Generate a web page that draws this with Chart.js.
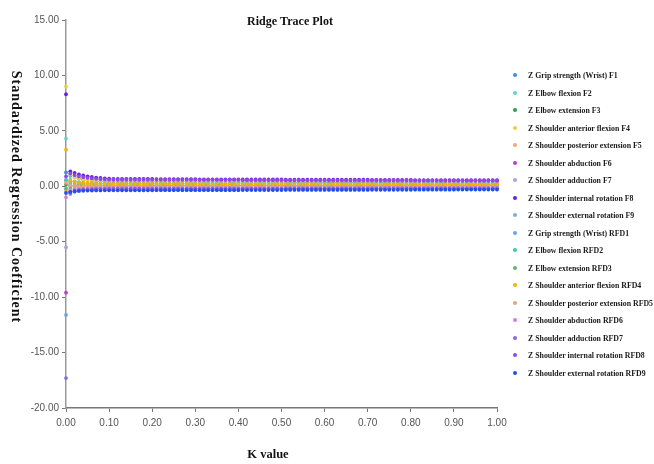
<!DOCTYPE html>
<html>
<head>
<meta charset="utf-8">
<title>Ridge Trace Plot</title>
<script src="https://cdn.jsdelivr.net/npm/chart.js@4"></script>
<style>
  html, body { margin: 0; padding: 0; background: #fff; }
  #wrap { width: 654px; height: 464px; position: relative; }
  #legenda { position: absolute; left: 510px; top: 69px; width: 144px; }
  .item { position: relative; height: 17.5px; }
  .item i { position: absolute; left: 3px; top: 4px; width: 4px; height: 4px; border-radius: 50%; }
  .item span {
    position: absolute; left: 18px; top: 1px; white-space: nowrap;
    font: bold 9px 'Liberation Serif', 'Times New Roman', serif; color: #1a1a1a;
    transform: scaleX(0.87); transform-origin: left center;
  }
</style>
</head>
<body>
<div id="wrap"><canvas id="grafico" width="654" height="464"></canvas><div id="legenda"></div></div>
<script>
/* Valores de K (eixo x) */
const K = [0.00,0.01,0.02,0.03,0.04,0.05,0.06,0.07,0.08,0.09,
  0.10,0.11,0.12,0.13,0.14,0.15,0.16,0.17,0.18,0.19,
  0.20,0.21,0.22,0.23,0.24,0.25,0.26,0.27,0.28,0.29,
  0.30,0.31,0.32,0.33,0.34,0.35,0.36,0.37,0.38,0.39,
  0.40,0.41,0.42,0.43,0.44,0.45,0.46,0.47,0.48,0.49,
  0.50,0.51,0.52,0.53,0.54,0.55,0.56,0.57,0.58,0.59,
  0.60,0.61,0.62,0.63,0.64,0.65,0.66,0.67,0.68,0.69,
  0.70,0.71,0.72,0.73,0.74,0.75,0.76,0.77,0.78,0.79,
  0.80,0.81,0.82,0.83,0.84,0.85,0.86,0.87,0.88,0.89,
  0.90,0.91,0.92,0.93,0.94,0.95,0.96,0.97,0.98,0.99,1.00];

const Y_TICKS = [-20, -15, -10, -5, 0, 5, 10, 15];
const X_TICKS = [0, 0.1, 0.2, 0.3, 0.4, 0.5, 0.6, 0.7, 0.8, 0.9, 1.0];

/* Coeficientes padronizados, um array por variável */
const F1 = [1.25,0.95,0.80,0.70,0.62,0.56,0.52,0.48,0.46,0.44,0.42,
  0.41,0.41,0.41,0.41,0.41,0.41,0.41,0.41,0.41,0.41,0.40,0.40,0.40,0.40,0.40,0.40,0.40,0.40,0.40,0.40,
  0.39,0.39,0.39,0.39,0.39,0.39,0.39,0.39,0.39,0.39,0.38,0.38,0.38,0.38,0.38,0.38,0.38,0.38,0.38,0.38,
  0.37,0.37,0.37,0.37,0.37,0.37,0.37,0.37,0.37,0.37,0.36,0.36,0.36,0.36,0.36,0.36,0.36,0.36,0.36,0.36,
  0.35,0.35,0.35,0.35,0.35,0.35,0.35,0.35,0.35,0.35,0.34,0.34,0.34,0.34,0.34,0.34,0.34,0.34,0.34,0.34,
  0.33,0.33,0.33,0.33,0.33,0.33,0.33,0.33,0.33,0.33];
const F2 = [4.30,0.60,0.45,0.38,0.33,0.30,0.28,0.27,0.26,0.25,0.24,
  0.24,0.24,0.24,0.24,0.24,0.24,0.24,0.24,0.24,0.24,0.24,0.24,0.24,0.24,0.24,0.24,0.24,0.24,0.24,0.24,
  0.23,0.23,0.23,0.23,0.23,0.23,0.23,0.23,0.23,0.23,0.23,0.23,0.23,0.23,0.23,0.23,0.23,0.23,0.23,0.23,
  0.22,0.22,0.22,0.22,0.22,0.22,0.22,0.22,0.22,0.22,0.22,0.22,0.22,0.22,0.22,0.22,0.22,0.22,0.22,0.22,
  0.21,0.21,0.21,0.21,0.21,0.21,0.21,0.21,0.21,0.21,0.21,0.21,0.21,0.21,0.21,0.21,0.21,0.21,0.21,0.21,
  0.20,0.20,0.20,0.20,0.20,0.20,0.20,0.20,0.20,0.20];
const F3 = [0.15,0.10,0.08,0.07,0.07,0.06,0.06,0.06,0.05,0.05,0.05,
  0.05,0.05,0.05,0.05,0.05,0.05,0.05,0.05,0.05,0.05,0.05,0.05,0.05,0.05,0.05,0.05,0.05,0.05,0.05,0.05,
  0.05,0.05,0.05,0.05,0.05,0.05,0.05,0.05,0.05,0.05,0.05,0.05,0.05,0.05,0.05,0.05,0.05,0.05,0.05,0.05,
  0.04,0.04,0.04,0.04,0.04,0.04,0.04,0.04,0.04,0.04,0.04,0.04,0.04,0.04,0.04,0.04,0.04,0.04,0.04,0.04,
  0.04,0.04,0.04,0.04,0.04,0.04,0.04,0.04,0.04,0.04,0.04,0.04,0.04,0.04,0.04,0.04,0.04,0.04,0.04,0.04,
  0.04,0.04,0.04,0.04,0.04,0.04,0.04,0.04,0.04,0.04];
const F4 = [9.00,1.05,0.80,0.68,0.60,0.55,0.52,0.50,0.48,0.47,0.46,
  0.46,0.46,0.46,0.46,0.46,0.46,0.46,0.46,0.46,0.46,0.45,0.45,0.45,0.45,0.45,0.45,0.45,0.45,0.45,0.45,
  0.44,0.44,0.44,0.44,0.44,0.44,0.44,0.44,0.44,0.44,0.43,0.43,0.43,0.43,0.43,0.43,0.43,0.43,0.43,0.43,
  0.42,0.42,0.42,0.42,0.42,0.42,0.42,0.42,0.42,0.42,0.41,0.41,0.41,0.41,0.41,0.41,0.41,0.41,0.41,0.41,
  0.40,0.40,0.40,0.40,0.40,0.40,0.40,0.40,0.40,0.40,0.39,0.39,0.39,0.39,0.39,0.39,0.39,0.39,0.39,0.39,
  0.38,0.38,0.38,0.38,0.38,0.38,0.38,0.38,0.38,0.38];
const F5 = [-0.40,-0.25,-0.18,-0.14,-0.12,-0.10,-0.09,-0.08,-0.08,-0.07,-0.07,
  -0.07,-0.07,-0.07,-0.07,-0.07,-0.07,-0.07,-0.07,-0.07,-0.07,-0.07,-0.07,-0.07,-0.07,-0.07,-0.07,-0.07,-0.07,-0.07,-0.07,
  -0.06,-0.06,-0.06,-0.06,-0.06,-0.06,-0.06,-0.06,-0.06,-0.06,-0.06,-0.06,-0.06,-0.06,-0.06,-0.06,-0.06,-0.06,-0.06,-0.06,
  -0.06,-0.06,-0.06,-0.06,-0.06,-0.06,-0.06,-0.06,-0.06,-0.06,-0.06,-0.06,-0.06,-0.06,-0.06,-0.06,-0.06,-0.06,-0.06,-0.06,
  -0.05,-0.05,-0.05,-0.05,-0.05,-0.05,-0.05,-0.05,-0.05,-0.05,-0.05,-0.05,-0.05,-0.05,-0.05,-0.05,-0.05,-0.05,-0.05,-0.05,
  -0.05,-0.05,-0.05,-0.05,-0.05,-0.05,-0.05,-0.05,-0.05,-0.05];
const F6 = [-9.60,-0.55,-0.40,-0.33,-0.28,-0.25,-0.23,-0.22,-0.21,-0.20,-0.20,
  -0.19,-0.19,-0.19,-0.19,-0.19,-0.19,-0.19,-0.19,-0.19,-0.19,-0.19,-0.19,-0.19,-0.19,-0.19,-0.19,-0.19,-0.19,-0.19,-0.19,
  -0.18,-0.18,-0.18,-0.18,-0.18,-0.18,-0.18,-0.18,-0.18,-0.18,-0.18,-0.18,-0.18,-0.18,-0.18,-0.18,-0.18,-0.18,-0.18,-0.18,
  -0.17,-0.17,-0.17,-0.17,-0.17,-0.17,-0.17,-0.17,-0.17,-0.17,-0.17,-0.17,-0.17,-0.17,-0.17,-0.17,-0.17,-0.17,-0.17,-0.17,
  -0.16,-0.16,-0.16,-0.16,-0.16,-0.16,-0.16,-0.16,-0.16,-0.16,-0.16,-0.16,-0.16,-0.16,-0.16,-0.16,-0.16,-0.16,-0.16,-0.16,
  -0.15,-0.15,-0.15,-0.15,-0.15,-0.15,-0.15,-0.15,-0.15,-0.15];
const F7 = [-5.50,-0.30,-0.15,-0.08,-0.04,-0.02,0.00,0.01,0.02,0.02,0.03,
  0.03,0.03,0.03,0.03,0.03,0.03,0.03,0.03,0.03,0.03,0.03,0.03,0.03,0.03,0.03,0.03,0.03,0.03,0.03,0.03,
  0.03,0.03,0.03,0.03,0.03,0.03,0.03,0.03,0.03,0.03,0.04,0.04,0.04,0.04,0.04,0.04,0.04,0.04,0.04,0.04,
  0.04,0.04,0.04,0.04,0.04,0.04,0.04,0.04,0.04,0.04,0.04,0.04,0.04,0.04,0.04,0.04,0.04,0.04,0.04,0.04,
  0.04,0.04,0.04,0.04,0.04,0.04,0.04,0.04,0.04,0.04,0.04,0.04,0.04,0.04,0.04,0.04,0.04,0.04,0.04,0.04,
  0.04,0.04,0.04,0.04,0.04,0.04,0.04,0.04,0.04,0.04];
const F8 = [8.30,1.35,1.20,1.08,0.98,0.90,0.84,0.79,0.75,0.72,0.69,
  0.67,0.67,0.67,0.67,0.67,0.67,0.67,0.67,0.67,0.67,0.65,0.65,0.65,0.65,0.65,0.65,0.65,0.65,0.65,0.65,
  0.63,0.63,0.63,0.63,0.63,0.63,0.63,0.63,0.63,0.63,0.62,0.62,0.62,0.62,0.62,0.62,0.62,0.62,0.62,0.62,
  0.60,0.60,0.60,0.60,0.60,0.60,0.60,0.60,0.60,0.60,0.59,0.59,0.59,0.59,0.59,0.59,0.59,0.59,0.59,0.59,
  0.58,0.58,0.58,0.58,0.58,0.58,0.58,0.58,0.58,0.58,0.56,0.56,0.56,0.56,0.56,0.56,0.56,0.56,0.56,0.56,
  0.55,0.55,0.55,0.55,0.55,0.55,0.55,0.55,0.55,0.55];
const F9 = [0.60,0.45,0.38,0.34,0.31,0.29,0.28,0.27,0.26,0.25,0.25,
  0.25,0.25,0.25,0.25,0.25,0.25,0.25,0.25,0.25,0.25,0.25,0.25,0.25,0.25,0.25,0.25,0.25,0.25,0.25,0.25,
  0.24,0.24,0.24,0.24,0.24,0.24,0.24,0.24,0.24,0.24,0.24,0.24,0.24,0.24,0.24,0.24,0.24,0.24,0.24,0.24,
  0.24,0.24,0.24,0.24,0.24,0.24,0.24,0.24,0.24,0.24,0.23,0.23,0.23,0.23,0.23,0.23,0.23,0.23,0.23,0.23,
  0.23,0.23,0.23,0.23,0.23,0.23,0.23,0.23,0.23,0.23,0.22,0.22,0.22,0.22,0.22,0.22,0.22,0.22,0.22,0.22,
  0.22,0.22,0.22,0.22,0.22,0.22,0.22,0.22,0.22,0.22];
const RFD1 = [-11.60,-0.70,-0.50,-0.42,-0.38,-0.35,-0.33,-0.32,-0.31,-0.30,-0.30,
  -0.30,-0.30,-0.30,-0.30,-0.30,-0.30,-0.30,-0.30,-0.30,-0.30,-0.29,-0.29,-0.29,-0.29,-0.29,-0.29,-0.29,-0.29,-0.29,-0.29,
  -0.28,-0.28,-0.28,-0.28,-0.28,-0.28,-0.28,-0.28,-0.28,-0.28,-0.28,-0.28,-0.28,-0.28,-0.28,-0.28,-0.28,-0.28,-0.28,-0.28,
  -0.27,-0.27,-0.27,-0.27,-0.27,-0.27,-0.27,-0.27,-0.27,-0.27,-0.26,-0.26,-0.26,-0.26,-0.26,-0.26,-0.26,-0.26,-0.26,-0.26,
  -0.25,-0.25,-0.25,-0.25,-0.25,-0.25,-0.25,-0.25,-0.25,-0.25,-0.25,-0.25,-0.25,-0.25,-0.25,-0.25,-0.25,-0.25,-0.25,-0.25,
  -0.24,-0.24,-0.24,-0.24,-0.24,-0.24,-0.24,-0.24,-0.24,-0.24];
const RFD2 = [0.50,0.30,0.22,0.18,0.16,0.15,0.14,0.13,0.13,0.12,0.12,
  0.12,0.12,0.12,0.12,0.12,0.12,0.12,0.12,0.12,0.12,0.12,0.12,0.12,0.12,0.12,0.12,0.12,0.12,0.12,0.12,
  0.12,0.12,0.12,0.12,0.12,0.12,0.12,0.12,0.12,0.12,0.12,0.12,0.12,0.12,0.12,0.12,0.12,0.12,0.12,0.12,
  0.11,0.11,0.11,0.11,0.11,0.11,0.11,0.11,0.11,0.11,0.11,0.11,0.11,0.11,0.11,0.11,0.11,0.11,0.11,0.11,
  0.11,0.11,0.11,0.11,0.11,0.11,0.11,0.11,0.11,0.11,0.11,0.11,0.11,0.11,0.11,0.11,0.11,0.11,0.11,0.11,
  0.11,0.11,0.11,0.11,0.11,0.11,0.11,0.11,0.11,0.11];
const RFD3 = [-0.20,-0.05,0.00,0.02,0.03,0.04,0.04,0.05,0.05,0.05,0.05,
  0.05,0.05,0.05,0.05,0.05,0.05,0.05,0.05,0.05,0.05,0.05,0.05,0.05,0.05,0.05,0.05,0.05,0.05,0.05,0.05,
  0.05,0.05,0.05,0.05,0.05,0.05,0.05,0.05,0.05,0.05,0.05,0.05,0.05,0.05,0.05,0.05,0.05,0.05,0.05,0.05,
  0.05,0.05,0.05,0.05,0.05,0.05,0.05,0.05,0.05,0.05,0.05,0.05,0.05,0.05,0.05,0.05,0.05,0.05,0.05,0.05,
  0.05,0.05,0.05,0.05,0.05,0.05,0.05,0.05,0.05,0.05,0.05,0.05,0.05,0.05,0.05,0.05,0.05,0.05,0.05,0.05,
  0.05,0.05,0.05,0.05,0.05,0.05,0.05,0.05,0.05,0.05];
const RFD4 = [3.30,0.50,0.38,0.32,0.28,0.26,0.24,0.23,0.22,0.22,0.21,
  0.21,0.21,0.21,0.21,0.21,0.21,0.21,0.21,0.21,0.21,0.21,0.21,0.21,0.21,0.21,0.21,0.21,0.21,0.21,0.21,
  0.20,0.20,0.20,0.20,0.20,0.20,0.20,0.20,0.20,0.20,0.20,0.20,0.20,0.20,0.20,0.20,0.20,0.20,0.20,0.20,
  0.20,0.20,0.20,0.20,0.20,0.20,0.20,0.20,0.20,0.20,0.19,0.19,0.19,0.19,0.19,0.19,0.19,0.19,0.19,0.19,
  0.19,0.19,0.19,0.19,0.19,0.19,0.19,0.19,0.19,0.19,0.18,0.18,0.18,0.18,0.18,0.18,0.18,0.18,0.18,0.18,
  0.18,0.18,0.18,0.18,0.18,0.18,0.18,0.18,0.18,0.18];
const RFD5 = [0.30,0.10,0.04,0.01,0.00,-0.01,-0.02,-0.02,-0.03,-0.03,-0.03,
  -0.03,-0.03,-0.03,-0.03,-0.03,-0.03,-0.03,-0.03,-0.03,-0.03,-0.03,-0.03,-0.03,-0.03,-0.03,-0.03,-0.03,-0.03,-0.03,-0.03,
  -0.03,-0.03,-0.03,-0.03,-0.03,-0.03,-0.03,-0.03,-0.03,-0.03,-0.03,-0.03,-0.03,-0.03,-0.03,-0.03,-0.03,-0.03,-0.03,-0.03,
  -0.03,-0.03,-0.03,-0.03,-0.03,-0.03,-0.03,-0.03,-0.03,-0.03,-0.03,-0.03,-0.03,-0.03,-0.03,-0.03,-0.03,-0.03,-0.03,-0.03,
  -0.03,-0.03,-0.03,-0.03,-0.03,-0.03,-0.03,-0.03,-0.03,-0.03,-0.03,-0.03,-0.03,-0.03,-0.03,-0.03,-0.03,-0.03,-0.03,-0.03,
  -0.03,-0.03,-0.03,-0.03,-0.03,-0.03,-0.03,-0.03,-0.03,-0.03];
const RFD6 = [-1.00,-0.45,-0.32,-0.26,-0.22,-0.20,-0.18,-0.17,-0.16,-0.16,-0.15,
  -0.15,-0.15,-0.15,-0.15,-0.15,-0.15,-0.15,-0.15,-0.15,-0.15,-0.15,-0.15,-0.15,-0.15,-0.15,-0.15,-0.15,-0.15,-0.15,-0.15,
  -0.14,-0.14,-0.14,-0.14,-0.14,-0.14,-0.14,-0.14,-0.14,-0.14,-0.14,-0.14,-0.14,-0.14,-0.14,-0.14,-0.14,-0.14,-0.14,-0.14,
  -0.13,-0.13,-0.13,-0.13,-0.13,-0.13,-0.13,-0.13,-0.13,-0.13,-0.13,-0.13,-0.13,-0.13,-0.13,-0.13,-0.13,-0.13,-0.13,-0.13,
  -0.13,-0.13,-0.13,-0.13,-0.13,-0.13,-0.13,-0.13,-0.13,-0.13,-0.12,-0.12,-0.12,-0.12,-0.12,-0.12,-0.12,-0.12,-0.12,-0.12,
  -0.12,-0.12,-0.12,-0.12,-0.12,-0.12,-0.12,-0.12,-0.12,-0.12];
const RFD7 = [-17.30,-0.60,-0.40,-0.32,-0.28,-0.26,-0.25,-0.24,-0.23,-0.23,-0.22,
  -0.22,-0.22,-0.22,-0.22,-0.22,-0.22,-0.22,-0.22,-0.22,-0.22,-0.22,-0.22,-0.22,-0.22,-0.22,-0.22,-0.22,-0.22,-0.22,-0.22,
  -0.21,-0.21,-0.21,-0.21,-0.21,-0.21,-0.21,-0.21,-0.21,-0.21,-0.21,-0.21,-0.21,-0.21,-0.21,-0.21,-0.21,-0.21,-0.21,-0.21,
  -0.20,-0.20,-0.20,-0.20,-0.20,-0.20,-0.20,-0.20,-0.20,-0.20,-0.20,-0.20,-0.20,-0.20,-0.20,-0.20,-0.20,-0.20,-0.20,-0.20,
  -0.19,-0.19,-0.19,-0.19,-0.19,-0.19,-0.19,-0.19,-0.19,-0.19,-0.19,-0.19,-0.19,-0.19,-0.19,-0.19,-0.19,-0.19,-0.19,-0.19,
  -0.18,-0.18,-0.18,-0.18,-0.18,-0.18,-0.18,-0.18,-0.18,-0.18];
const RFD8 = [0.90,1.15,1.00,0.90,0.82,0.76,0.71,0.67,0.64,0.62,0.60,
  0.59,0.59,0.59,0.59,0.59,0.59,0.59,0.59,0.59,0.59,0.58,0.58,0.58,0.58,0.58,0.58,0.58,0.58,0.58,0.58,
  0.57,0.57,0.57,0.57,0.57,0.57,0.57,0.57,0.57,0.57,0.55,0.55,0.55,0.55,0.55,0.55,0.55,0.55,0.55,0.55,
  0.54,0.54,0.54,0.54,0.54,0.54,0.54,0.54,0.54,0.54,0.53,0.53,0.53,0.53,0.53,0.53,0.53,0.53,0.53,0.53,
  0.52,0.52,0.52,0.52,0.52,0.52,0.52,0.52,0.52,0.52,0.51,0.51,0.51,0.51,0.51,0.51,0.51,0.51,0.51,0.51,
  0.50,0.50,0.50,0.50,0.50,0.50,0.50,0.50,0.50,0.50];
const RFD9 = [-0.60,-0.50,-0.45,-0.42,-0.40,-0.39,-0.38,-0.37,-0.37,-0.36,-0.36,
  -0.36,-0.36,-0.36,-0.36,-0.36,-0.36,-0.36,-0.36,-0.36,-0.36,-0.35,-0.35,-0.35,-0.35,-0.35,-0.35,-0.35,-0.35,-0.35,-0.35,
  -0.35,-0.35,-0.35,-0.35,-0.35,-0.35,-0.35,-0.35,-0.35,-0.35,-0.34,-0.34,-0.34,-0.34,-0.34,-0.34,-0.34,-0.34,-0.34,-0.34,
  -0.33,-0.33,-0.33,-0.33,-0.33,-0.33,-0.33,-0.33,-0.33,-0.33,-0.33,-0.33,-0.33,-0.33,-0.33,-0.33,-0.33,-0.33,-0.33,-0.33,
  -0.32,-0.32,-0.32,-0.32,-0.32,-0.32,-0.32,-0.32,-0.32,-0.32,-0.31,-0.31,-0.31,-0.31,-0.31,-0.31,-0.31,-0.31,-0.31,-0.31,
  -0.30,-0.30,-0.30,-0.30,-0.30,-0.30,-0.30,-0.30,-0.30,-0.30];

const NOMES = [
  'Z Grip strength (Wrist) F1', 'Z Elbow flexion F2', 'Z Elbow extension F3',
  'Z Shoulder anterior flexion F4', 'Z Shoulder posterior extension F5', 'Z Shoulder abduction F6',
  'Z Shoulder adduction F7', 'Z Shoulder internal rotation F8', 'Z Shoulder external rotation F9',
  'Z Grip strength (Wrist) RFD1', 'Z Elbow flexion RFD2', 'Z Elbow extension RFD3',
  'Z Shoulder anterior flexion RFD4', 'Z Shoulder posterior extension RFD5', 'Z Shoulder abduction RFD6',
  'Z Shoulder adduction RFD7', 'Z Shoulder internal rotation RFD8', 'Z Shoulder external rotation RFD9'
];
const SERIES = [F1, F2, F3, F4, F5, F6, F7, F8, F9, RFD1, RFD2, RFD3, RFD4, RFD5, RFD6, RFD7, RFD8, RFD9];
const CORES = ['#3d8ee0', '#5fd3d3', '#2e9e4a', '#f2cd3c', '#f0a878', '#b640d0', '#b0a0e0', '#6a20e0', '#7ab0e0',
  '#6aa6e2', '#40c8b0', '#60b870', '#f0b400', '#f0a080', '#d080e0', '#8868e0', '#9048e8', '#2050e8'];

const SERIF = "'Liberation Serif', 'Times New Roman', serif";
const SANS = "'Liberation Sans Narrow', 'Liberation Sans', Arial, sans-serif";

/* Títulos desenhados à mão: o do eixo y lê de cima para baixo */
const titulos = {
  id: 'titulos',
  afterDraw(chart) {
    const ctx = chart.ctx;
    ctx.save();
    ctx.fillStyle = '#111';
    ctx.textAlign = 'center';
    ctx.textBaseline = 'middle';
    ctx.font = `bold 12px ${SERIF}`;
    ctx.fillText('Ridge Trace Plot', 290, 22);
    ctx.font = `bold 12.5px ${SERIF}`;
    ctx.fillText('K value', 268, 455);
    ctx.translate(16, 197);
    ctx.rotate(Math.PI / 2);
    ctx.font = `bold 14px ${SERIF}`;
    ctx.letterSpacing = '1px';
    ctx.fillText('Standardized Regression Coefficient', 0, 0);
    ctx.restore();
  }
};

new Chart(document.getElementById('grafico'), {
  type: 'scatter',
  data: {
    datasets: SERIES.map((vals, i) => ({
      label: NOMES[i],
      data: vals.map((v, j) => ({ x: K[j], y: v })),
      backgroundColor: CORES[i],
      borderColor: CORES[i],
      pointRadius: 1.9,
      pointBorderWidth: 0,
      order: SERIES.length - i,
      clip: false
    }))
  },
  options: {
    responsive: false,
    animation: false,
    layout: { padding: { top: 20, left: 0, right: 157, bottom: 0 } },
    plugins: {
      title: { display: false },
      tooltip: { enabled: false },
      legend: { display: false }
    },
    scales: {
      x: {
        type: 'linear',
        min: 0, max: 1,
        afterFit: s => { s.height = 56; },
        afterBuildTicks: s => { s.ticks = X_TICKS.map(v => ({ value: v })); },
        border: { display: true, color: '#777', width: 1.5 },
        grid: { display: true, drawOnChartArea: false, drawTicks: true, tickLength: 4, color: '#777' },
        ticks: {
          padding: 5,
          color: '#555',
          font: { family: SANS, size: 10 },
          callback: v => v.toFixed(2)
        }
      },
      y: {
        type: 'linear',
        min: -20, max: 15,
        afterFit: s => { s.width = 66; },
        afterBuildTicks: s => { s.ticks = Y_TICKS.map(v => ({ value: v })); },
        border: { display: true, color: '#999', width: 1.5 },
        grid: { display: true, drawOnChartArea: false, drawTicks: true, tickLength: 4, color: '#777' },
        ticks: {
          padding: 3,
          color: '#555',
          font: { family: SANS, size: 10 },
          callback: v => v.toFixed(2)
        }
      }
    }
  },
  plugins: [titulos]
});

/* Legenda em HTML, com o marcador afastado do texto como no original */
document.getElementById('legenda').innerHTML = NOMES.map((nome, i) =>
  `<div class="item"><i style="background:${CORES[i]}"></i><span>${nome}</span></div>`).join('');
</script>
</body>
</html>
